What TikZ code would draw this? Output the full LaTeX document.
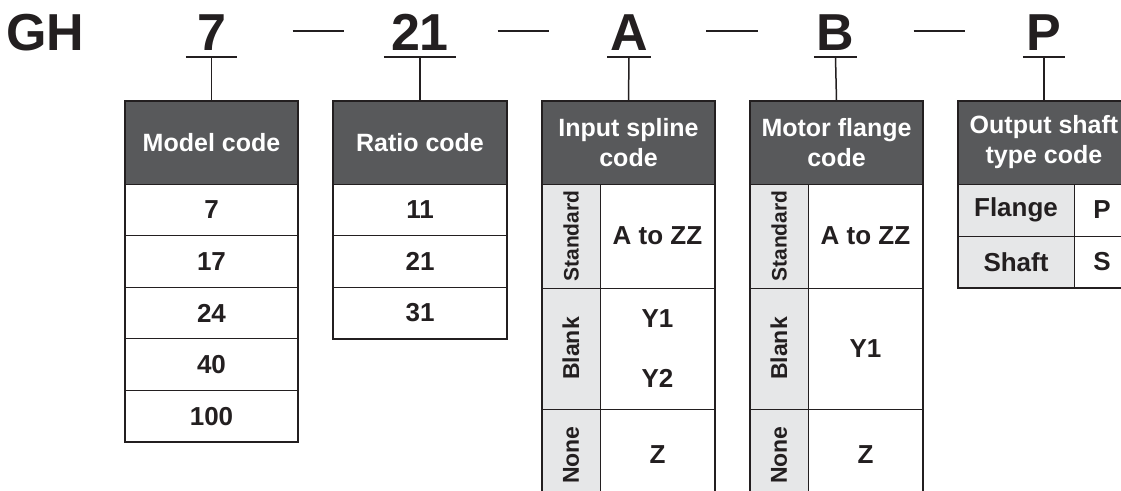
\documentclass[tikz,border=0pt]{standalone}
\usepackage{fontspec}
\setmainfont{Liberation Sans}
\definecolor{ink}{HTML}{231F20}
\definecolor{hdr}{HTML}{58595B}
\definecolor{lbl}{HTML}{E6E7E8}
\begin{document}
\begin{tikzpicture}[x=1pt,y=-1pt,
  every node/.style={font=\bfseries\fontsize{25}{30}\selectfont, text=ink, inner sep=0pt},
  hdrcell/.style={draw=ink, fill=hdr, text=white, line width=1pt, align=center, minimum height=83pt},
  cell/.style={draw=ink, line width=0.8pt, fill=white, align=center, font=\bfseries\fontsize{26}{30}\selectfont},
  lblcell/.style={cell, fill=lbl, rotate=90, font=\bfseries\fontsize{23}{28}\selectfont},
  frame/.style={draw=ink, line width=2pt},
  codetxt/.style={font=\bfseries\fontsize{52}{52}\selectfont, anchor=base, text depth=7pt},
  uline/.style={draw=ink, line width=2pt},
  link/.style={draw=ink, line width=1.5pt},
  dashln/.style={draw=ink, line width=1.5pt}
]
\useasboundingbox (0,0) rectangle (1121,490);

% ---- top code line ----
\node[codetxt] (gh) at (45.5,50) {GH};
\node[codetxt, minimum width=51pt] (c7) at (211.5,50) {7};
\node[codetxt, minimum width=72pt] (c21) at (420,50) {21};
\node[codetxt, minimum width=43pt] (cA) at (629,50) {A};
\node[codetxt, minimum width=43pt] (cB) at (835.5,50) {B};
\node[codetxt, minimum width=42pt] (cP) at (1044,50) {P};
\foreach \n in {c7,c21,cA,cB,cP}{\draw[uline] (\n.south west) -- (\n.south east);}
\coordinate (d1a) at (292.7,31); \coordinate (d1b) at (343.6,31);
\coordinate (d2a) at (497.5,31); \coordinate (d2b) at (549,31);
\coordinate (d3a) at (706,31);   \coordinate (d3b) at (757.5,31);
\coordinate (d4a) at (913.6,31); \coordinate (d4b) at (964.6,31);
\draw[dashln] (d1a) -- (d1b);
\draw[dashln] (d2a) -- (d2b);
\draw[dashln] (d3a) -- (d3b);
\draw[dashln] (d4a) -- (d4b);

% ---- Model code ----
\node[hdrcell, minimum width=173pt] (mh) at (211.5,142.5) {Model code};
\node[cell, minimum width=173pt, minimum height=51.6pt] (m1) at (211.5,209.8) {7};
\node[cell, minimum width=173pt, minimum height=51.6pt] (m2) at (211.5,261.4) {17};
\node[cell, minimum width=173pt, minimum height=51.6pt] (m3) at (211.5,313) {24};
\node[cell, minimum width=173pt, minimum height=51.6pt] (m4) at (211.5,364.6) {40};
\node[cell, minimum width=173pt, minimum height=51.6pt] (m5) at (211.5,416.2) {100};
\draw[frame] (mh.north west) rectangle (m5.south east);
\draw[link] (c7.south) -- (mh.north);

% ---- Ratio code ----
\node[hdrcell, minimum width=174pt] (rh) at (420,142.5) {Ratio code};
\node[cell, minimum width=174pt, minimum height=51.6pt] (r1) at (420,209.8) {11};
\node[cell, minimum width=174pt, minimum height=51.6pt] (r2) at (420,261.4) {21};
\node[cell, minimum width=174pt, minimum height=51.6pt] (r3) at (420,313) {31};
\draw[frame] (rh.north west) rectangle (r3.south east);
\draw[link] (c21.south) -- (rh.north);

% ---- Input spline code ----
\node[hdrcell, minimum width=173pt] (ih) at (628.5,142.5) {Input spline\\code};
\node[lblcell, minimum width=104pt, minimum height=58pt, font=\bfseries\fontsize{21}{25}\selectfont] (il1) at (571,236) {Standard};
\node[lblcell, minimum width=121pt, minimum height=58pt] (il2) at (571,348.5) {Blank};
\node[lblcell, minimum width=92pt, minimum height=58pt] (il3) at (571,455) {None};
\node[cell, minimum width=115pt, minimum height=104pt] (iv1) at (657.5,236) {A to ZZ};
\node[cell, minimum width=115pt, minimum height=121pt] (iv2) at (657.5,348.5) {Y1\\[30pt]Y2};
\node[cell, minimum width=115pt, minimum height=92pt] (iv3) at (657.5,455) {Z};
\draw[frame] (ih.north west) rectangle (iv3.south east);
\draw[link] (cA.south) -- (ih.north);

% ---- Motor flange code ----
\node[hdrcell, minimum width=173pt] (fh) at (836.5,142.5) {Motor flange\\code};
\node[lblcell, minimum width=104pt, minimum height=58pt, font=\bfseries\fontsize{21}{25}\selectfont] (fl1) at (779,236) {Standard};
\node[lblcell, minimum width=121pt, minimum height=58pt] (fl2) at (779,348.5) {Blank};
\node[lblcell, minimum width=92pt, minimum height=58pt] (fl3) at (779,455) {None};
\node[cell, minimum width=115pt, minimum height=104pt] (fv1) at (865.5,236) {A to ZZ};
\node[cell, minimum width=115pt, minimum height=121pt] (fv2) at (865.5,348.5) {Y1};
\node[cell, minimum width=115pt, minimum height=92pt] (fv3) at (865.5,455) {Z};
\draw[frame] (fh.north west) rectangle (fv3.south east);
\draw[link] (cB.south) -- (fh.north);

% ---- Output shaft type code ----
\node[hdrcell, minimum width=172pt] (oh) at (1044,142.5) {Output shaft\\type code};
\node[cell, fill=lbl, minimum width=116pt, minimum height=52pt] (ol1) at (1016,210) {Flange};
\node[cell, fill=lbl, minimum width=116pt, minimum height=52pt] (ol2) at (1016,262) {Shaft};
\node[cell, minimum width=56pt, minimum height=52pt] (ov1) at (1102,210) {P};
\node[cell, minimum width=56pt, minimum height=52pt] (ov2) at (1102,262) {S};
\draw[frame] (oh.north west) rectangle (ov2.south east);
\draw[link] (cP.south) -- (oh.north);
\end{tikzpicture}
\end{document}
